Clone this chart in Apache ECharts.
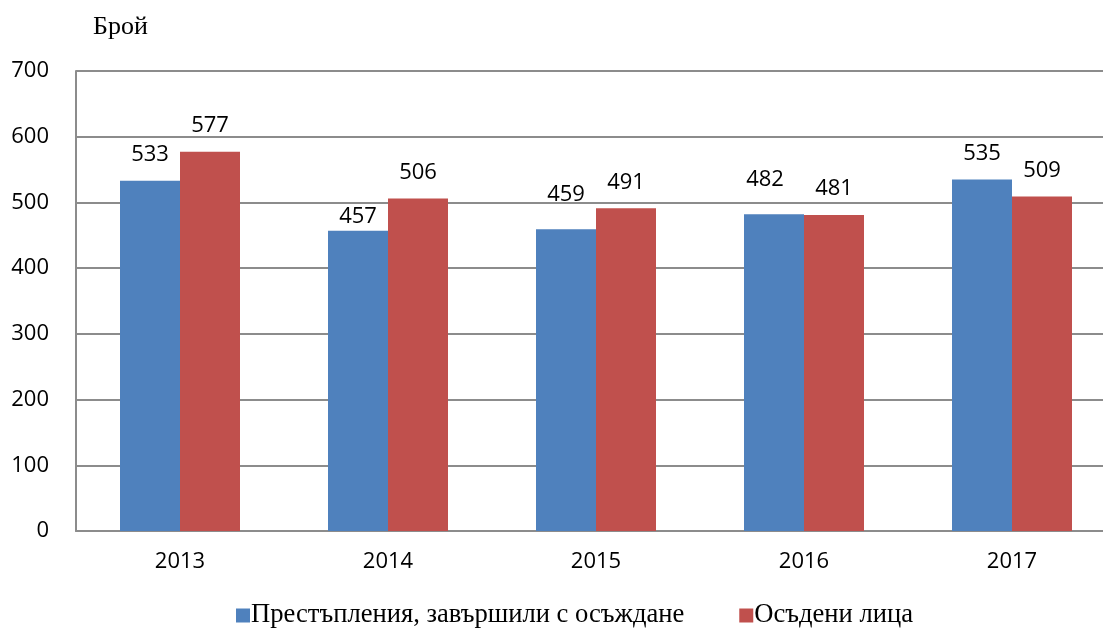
<!DOCTYPE html>
<html>
<head>
<meta charset="utf-8">
<script src="https://cdn.jsdelivr.net/npm/echarts@6/dist/echarts.min.js"></script>
<style>
  html, body { margin: 0; padding: 0; background: #fff; }
  #chart { width: 1103px; height: 634px; }
</style>
</head>
<body>
<div id="chart"></div>
<script>
// данни
var years = ['2013', '2014', '2015', '2016', '2017'];
var crimes = [533, 457, 459, 482, 535];
var convicted = [577, 506, 491, 481, 509];
var seriesNames = ['Престъпления, завършили с осъждане', 'Осъдени лица'];

// ръчно преместени етикети (както в оригинала)
var crimesLabelNudge = { 1: [0, 12], 2: [0, -9], 3: [-9, -9] };

var dom = echarts.init(document.getElementById('chart'));

var labelStyle = {
    show: true,
    position: 'top',
    distance: 15,
    color: '#000',
    fontFamily: 'Open Sans',
    fontSize: 22
};

function withNudge(values, nudge) {
    return values.map(function(v, i) {
        return nudge[i] ? { value: v, label: { offset: nudge[i] } } : v;
    });
}

// графиката е изрязана отдясно, затова зоната е по-широка от платното
dom.setOption({
    animation: false,
    title: {
        text: 'Брой',
        left: 88,
        top: 9,
        textStyle: { fontFamily: 'Liberation Serif', fontWeight: 'normal', fontSize: 26, color: '#000' }
    },
    legend: {
        data: seriesNames,
        left: 231,
        bottom: 0,
        itemWidth: 14,
        itemHeight: 14,
        itemGap: 55,
        icon: 'rect',
        textStyle: { fontFamily: 'Liberation Serif', fontSize: 26.6, color: '#000', padding: [0, 0, 0, -4] }
    },
    grid: { left: 76, width: 1040, top: 71, bottom: 103, containLabel: false, outerBoundsMode: 'none' },
    xAxis: {
        type: 'category',
        data: years,
        axisLine: { lineStyle: { color: '#8c8c8c', width: 2 } },
        axisTick: { show: false },
        axisLabel: { color: '#000', fontFamily: 'Open Sans', fontSize: 22, margin: 20 }
    },
    yAxis: {
        type: 'value',
        min: 0,
        max: 700,
        interval: 100,
        axisLine: { show: true, lineStyle: { color: '#8c8c8c', width: 2 } },
        axisTick: { show: false },
        axisLabel: { color: '#000', fontFamily: 'Open Sans', fontSize: 22, margin: 27 },
        splitLine: { lineStyle: { color: '#8c8c8c', width: 2 } }
    },
    series: [
        {
            name: seriesNames[0],
            type: 'bar',
            data: withNudge(crimes, crimesLabelNudge),
            barWidth: 60,
            barGap: '0%',
            itemStyle: { color: '#4F81BD' },
            label: labelStyle
        },
        {
            name: seriesNames[1],
            type: 'bar',
            data: convicted,
            barWidth: 60,
            barGap: '0%',
            itemStyle: { color: '#C0504D' },
            label: labelStyle
        }
    ]
});
</script>
</body>
</html>
